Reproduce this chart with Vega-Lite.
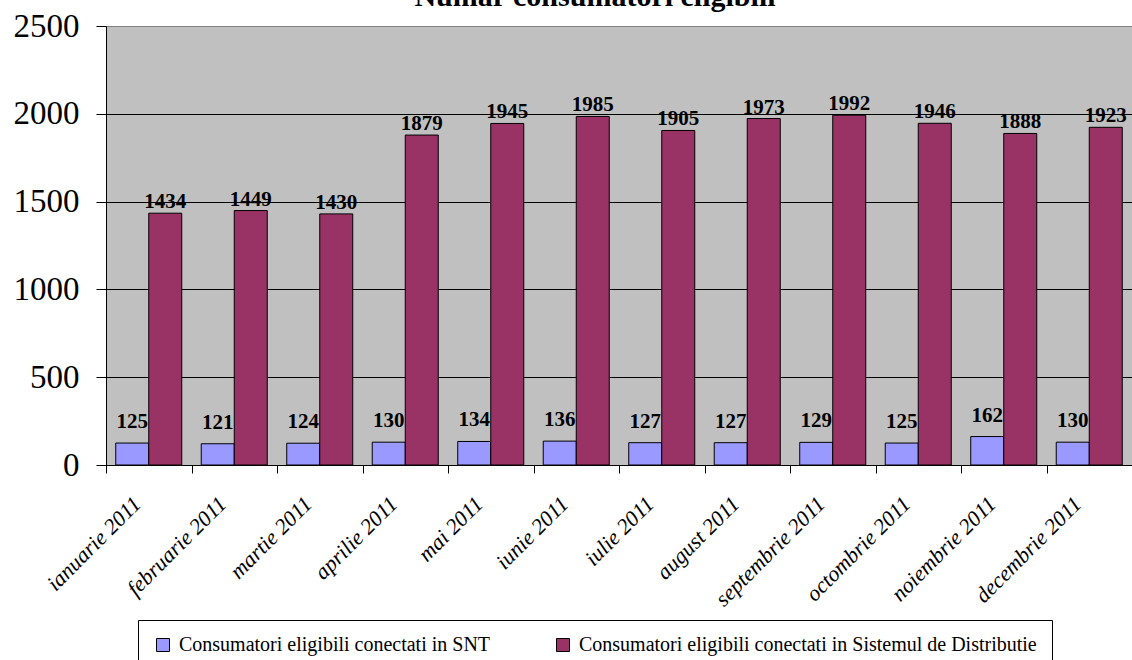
{
  "$schema": "https://vega.github.io/schema/vega-lite/v6.json",
  "width": 1026,
  "height": 439,
  "autosize": {"type": "none"},
  "padding": {"left": 106, "top": 26, "right": 0, "bottom": 195},
  "background": "white",
  "title": {
    "text": "Numar consumatori eligibili",
    "font": "Liberation Serif",
    "fontSize": 30,
    "fontWeight": "bold",
    "color": "black",
    "anchor": "middle",
    "baseline": "alphabetic",
    "offset": 5,
    "dy": 31,
    "dx": -24
  },
  "config": {
    "view": {"fill": "#C0C0C0", "stroke": "#808080", "strokeWidth": 1},
    "font": "Liberation Serif"
  },
  "data": {
    "values": [
      {"luna": "ianuarie 2011", "serie": "Consumatori eligibili conectati in SNT", "valoare": 125},
      {"luna": "ianuarie 2011", "serie": "Consumatori eligibili conectati in Sistemul de Distributie", "valoare": 1434},
      {"luna": "februarie 2011", "serie": "Consumatori eligibili conectati in SNT", "valoare": 121},
      {"luna": "februarie 2011", "serie": "Consumatori eligibili conectati in Sistemul de Distributie", "valoare": 1449},
      {"luna": "martie 2011", "serie": "Consumatori eligibili conectati in SNT", "valoare": 124},
      {"luna": "martie 2011", "serie": "Consumatori eligibili conectati in Sistemul de Distributie", "valoare": 1430},
      {"luna": "aprilie 2011", "serie": "Consumatori eligibili conectati in SNT", "valoare": 130},
      {"luna": "aprilie 2011", "serie": "Consumatori eligibili conectati in Sistemul de Distributie", "valoare": 1879},
      {"luna": "mai 2011", "serie": "Consumatori eligibili conectati in SNT", "valoare": 134},
      {"luna": "mai 2011", "serie": "Consumatori eligibili conectati in Sistemul de Distributie", "valoare": 1945},
      {"luna": "iunie 2011", "serie": "Consumatori eligibili conectati in SNT", "valoare": 136},
      {"luna": "iunie 2011", "serie": "Consumatori eligibili conectati in Sistemul de Distributie", "valoare": 1985},
      {"luna": "iulie 2011", "serie": "Consumatori eligibili conectati in SNT", "valoare": 127},
      {"luna": "iulie 2011", "serie": "Consumatori eligibili conectati in Sistemul de Distributie", "valoare": 1905},
      {"luna": "august 2011", "serie": "Consumatori eligibili conectati in SNT", "valoare": 127},
      {"luna": "august 2011", "serie": "Consumatori eligibili conectati in Sistemul de Distributie", "valoare": 1973},
      {"luna": "septembrie 2011", "serie": "Consumatori eligibili conectati in SNT", "valoare": 129},
      {"luna": "septembrie 2011", "serie": "Consumatori eligibili conectati in Sistemul de Distributie", "valoare": 1992},
      {"luna": "octombrie 2011", "serie": "Consumatori eligibili conectati in SNT", "valoare": 125},
      {"luna": "octombrie 2011", "serie": "Consumatori eligibili conectati in Sistemul de Distributie", "valoare": 1946},
      {"luna": "noiembrie 2011", "serie": "Consumatori eligibili conectati in SNT", "valoare": 162},
      {"luna": "noiembrie 2011", "serie": "Consumatori eligibili conectati in Sistemul de Distributie", "valoare": 1888},
      {"luna": "decembrie 2011", "serie": "Consumatori eligibili conectati in SNT", "valoare": 130},
      {"luna": "decembrie 2011", "serie": "Consumatori eligibili conectati in Sistemul de Distributie", "valoare": 1923}
    ]
  },
  "encoding": {
    "x": {
      "field": "luna",
      "type": "nominal",
      "sort": null,
      "title": null,
      "scale": {"paddingInner": 0, "paddingOuter": 0},
      "axis": {
        "domainColor": "black",
        "tickColor": "black",
        "tickSize": 8,
        "tickBand": "extent",
        "grid": false,
        "labelAngle": -45,
        "labelAlign": "right",
        "labelBaseline": "middle",
        "labelPadding": 27,
        "labelOffset": -12,
        "labelFont": "Liberation Serif",
        "labelFontStyle": "italic",
        "labelFontSize": 22,
        "labelColor": "black",
        "labelLimit": 300
      }
    },
    "xOffset": {
      "field": "serie",
      "type": "nominal",
      "scale": {"paddingInner": 0, "paddingOuter": 0.295}
    },
    "y": {
      "field": "valoare",
      "type": "quantitative",
      "title": null,
      "scale": {"domain": [0, 2500], "nice": false},
      "axis": {
        "values": [0, 500, 1000, 1500, 2000, 2500],
        "format": "d",
        "domainColor": "black",
        "tickColor": "black",
        "tickSize": 10,
        "labelPadding": 17,
        "labelFont": "Liberation Serif",
        "labelFontSize": 33,
        "labelColor": "black",
        "grid": true,
        "gridColor": {"condition": {"test": "datum.value == 2500", "value": "#808080"}, "value": "black"},
        "gridOpacity": 1
      }
    }
  },
  "layer": [
    {
      "mark": {"type": "bar", "stroke": "black", "strokeWidth": 1},
      "encoding": {
        "color": {
          "field": "serie",
          "type": "nominal",
          "scale": {
            "domain": ["Consumatori eligibili conectati in SNT", "Consumatori eligibili conectati in Sistemul de Distributie"],
            "range": ["#9999FF", "#993366"]
          },
          "legend": {
            "title": null,
            "orient": "none",
            "direction": "horizontal",
            "legendX": 32,
            "legendY": 594,
            "padding": 15,
            "strokeColor": "black",
            "fillColor": "white",
            "symbolType": "square",
            "symbolSize": 169,
            "symbolStrokeColor": "black",
            "symbolStrokeWidth": 1,
            "symbolOpacity": 1,
            "labelFont": "Liberation Serif",
            "labelFontSize": 20,
            "labelColor": "black",
            "labelLimit": 600,
            "labelOffset": 6,
            "columnPadding": 62
          }
        }
      }
    },
    {
      "transform": [{"filter": "datum.serie == 'Consumatori eligibili conectati in SNT'"}],
      "mark": {"type": "text", "font": "Liberation Serif", "fontSize": 21, "fontWeight": "bold", "color": "black", "baseline": "alphabetic", "dy": -15},
      "encoding": {"text": {"field": "valoare", "type": "quantitative"}}
    },
    {
      "transform": [{"filter": "datum.serie == 'Consumatori eligibili conectati in Sistemul de Distributie'"}],
      "mark": {"type": "text", "font": "Liberation Serif", "fontSize": 21, "fontWeight": "bold", "color": "black", "baseline": "alphabetic", "dy": -5},
      "encoding": {"text": {"field": "valoare", "type": "quantitative"}}
    }
  ]
}
